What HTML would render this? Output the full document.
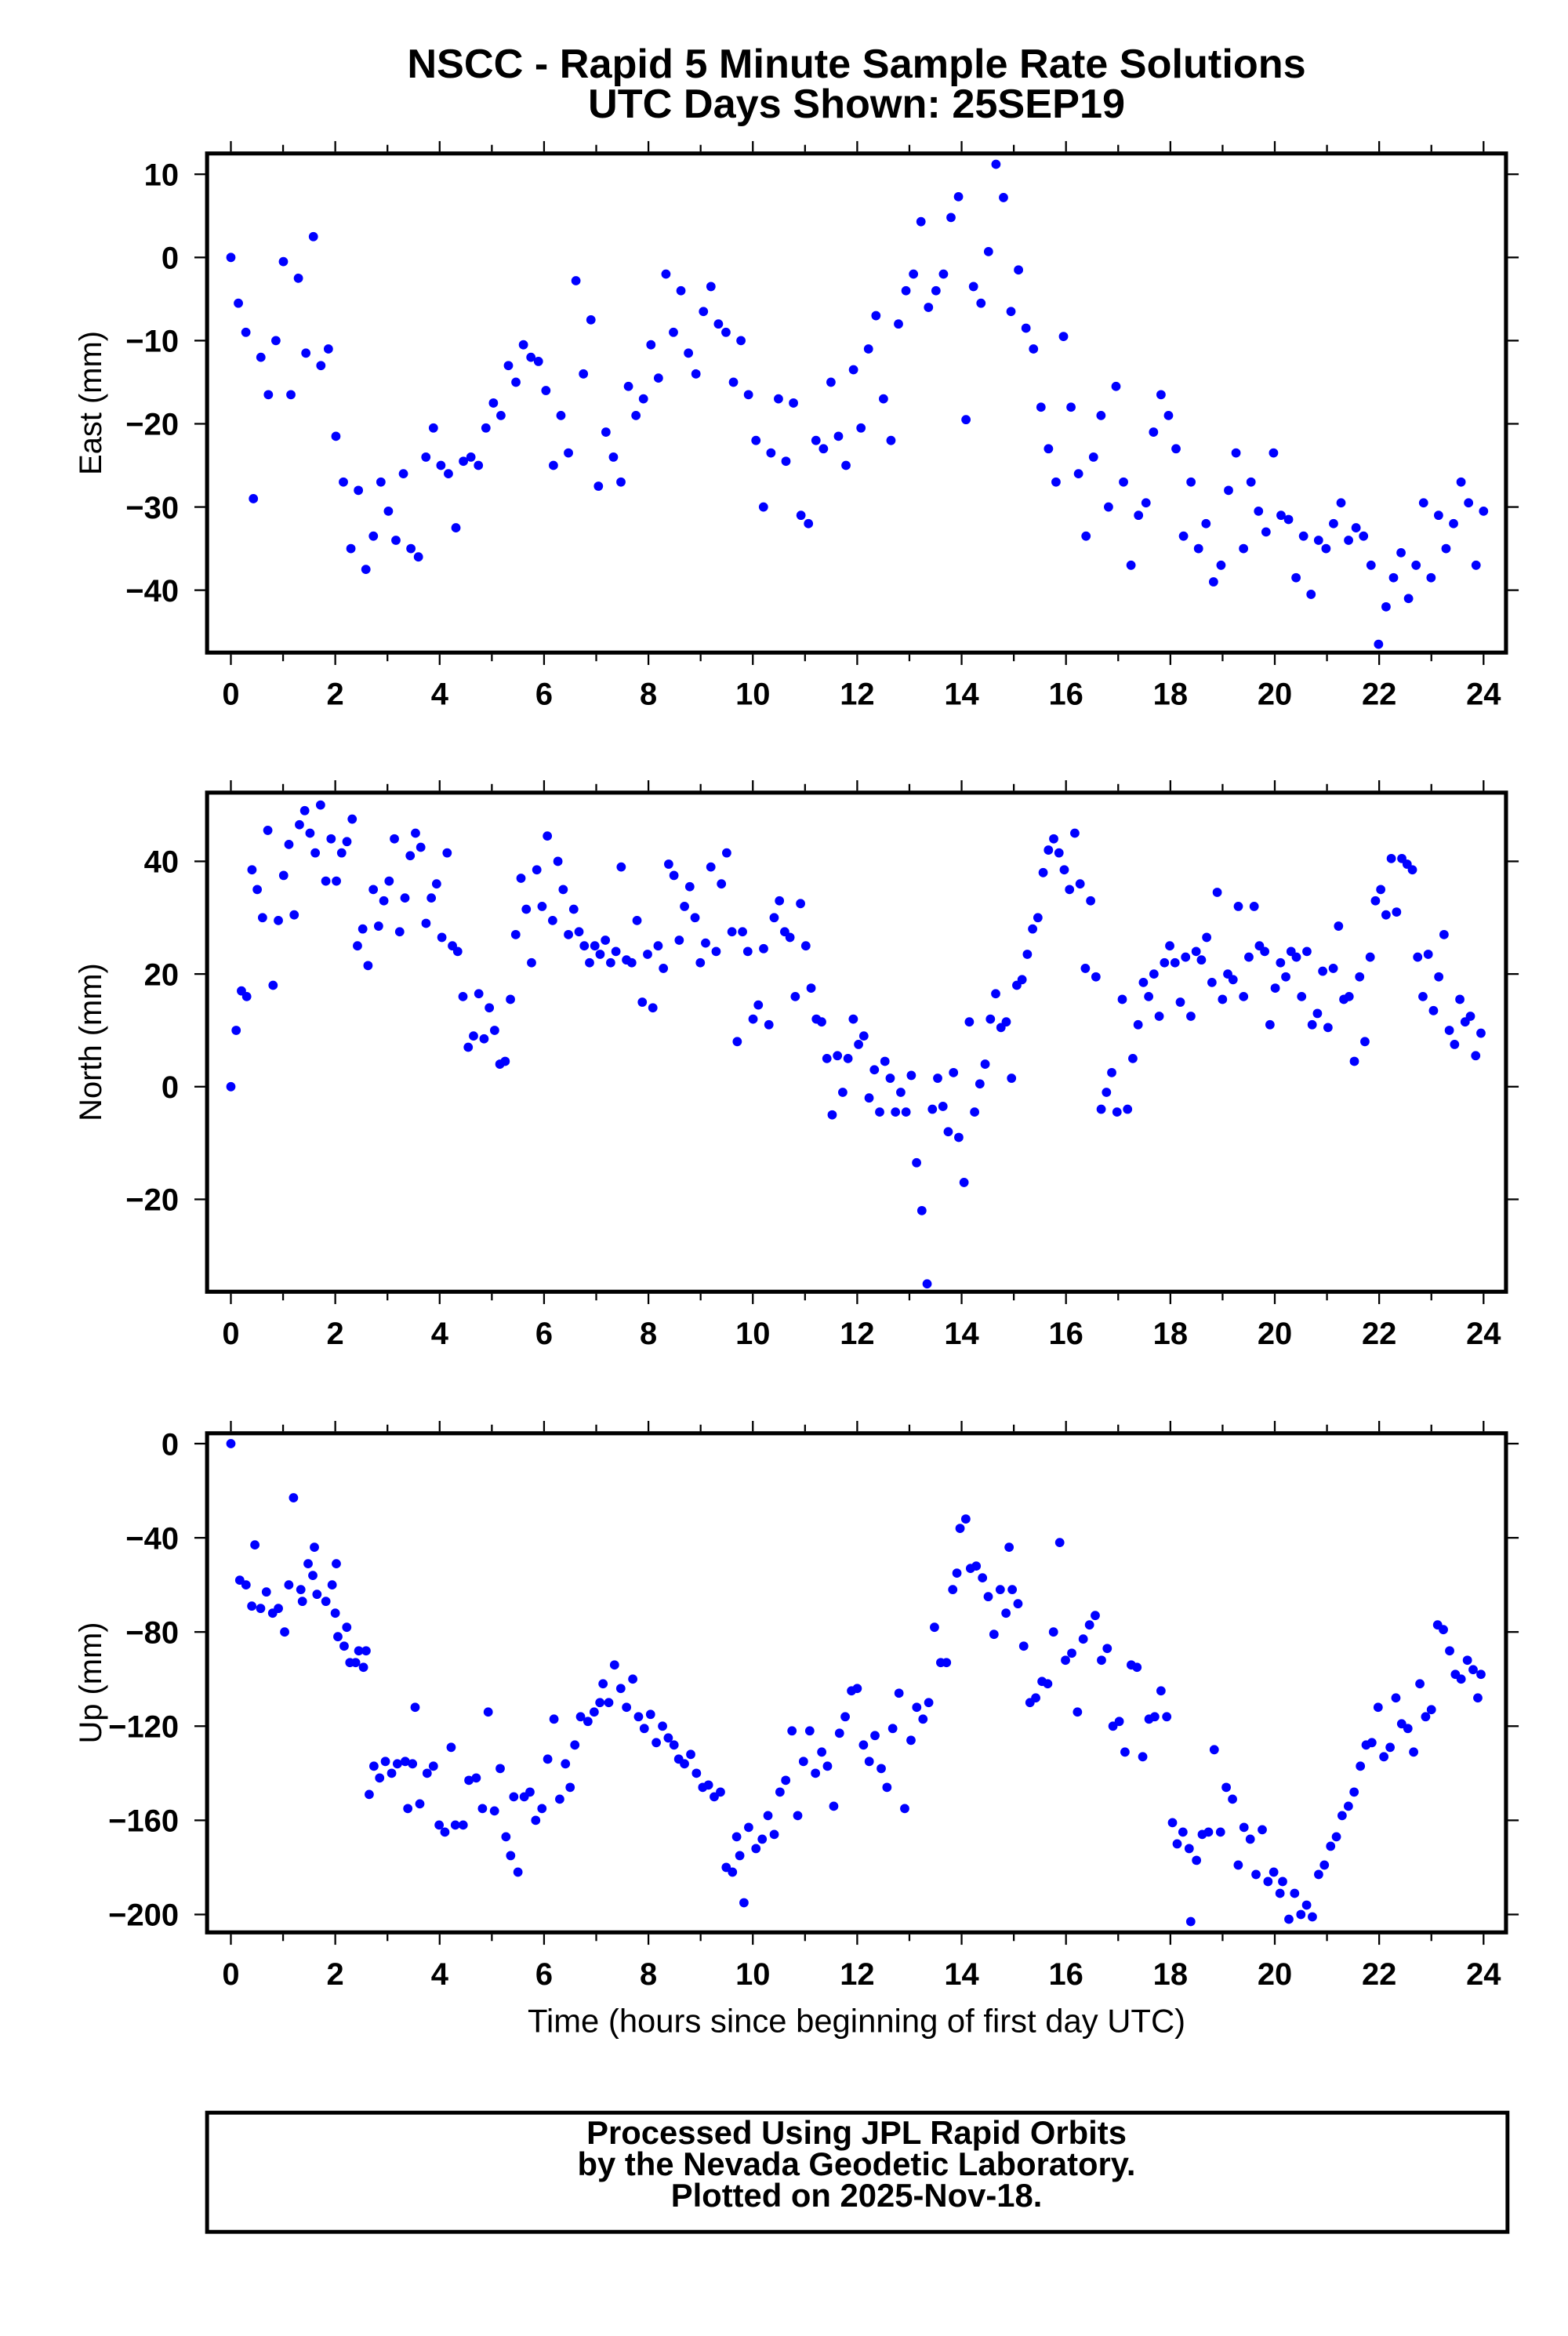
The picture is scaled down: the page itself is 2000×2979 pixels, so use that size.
<!DOCTYPE html>
<html><head><meta charset="utf-8"><style>
html,body{margin:0;padding:0;background:#fff}
svg{display:block}
text{font-family:"Liberation Sans",Arial,sans-serif}
</style></head><body>
<svg id="chart" width="2000" height="2979" viewBox="0 0 1052.6 1567.9" xmlns="http://www.w3.org/2000/svg">
<text x="575" y="52" text-anchor="middle" font-size="27.5" font-weight="bold">NSCC - Rapid 5 Minute Sample Rate Solutions</text>
<text x="575" y="79" text-anchor="middle" font-size="27.5" font-weight="bold">UTC Days Shown:  25SEP19</text>
<text x="575" y="1364" text-anchor="middle" font-size="22">Time (hours since beginning of first day UTC)</text>
<rect x="139" y="1418" width="873" height="80" fill="none" stroke="#000" stroke-width="2.6"/>
<text x="575" y="1439" text-anchor="middle" font-size="22" font-weight="bold">Processed Using JPL Rapid Orbits</text>
<text x="575" y="1460" text-anchor="middle" font-size="22" font-weight="bold">by the Nevada Geodetic Laboratory.</text>
<text x="575" y="1481" text-anchor="middle" font-size="22" font-weight="bold">Plotted on 2025-Nov-18.</text>
</svg>
<script>
const xTicks = [0,2,4,6,8,10,12,14,16,18,20,22,24];
const eastTicks = [10,0,-10,-20,-30,-40];
const northTicks = [40,20,0,-20];
const upTicks = [0,-40,-80,-120,-160,-200];

const eastV = [0,-5.5,-9,-29,-12,-16.5,-10,-0.5,-16.5,-2.5,-11.5,2.5,-13,-11,-21.5,-27,-35,-28,-37.5,-33.5,-27,-30.5,-34,-26,-35,-36,-24,-20.5,-25,-26,-32.5,-24.5,-24,-25,-20.5,-17.5,-19,-13,-15,-10.5,-12,-12.5,-16,-25,-19,-23.5,-2.8,-14,-7.5,-27.5,-21,-24,-27,-15.5,-19,-17,-10.5,-14.5,-2,-9,-4,-11.5,-14,-6.5,-3.5,-8,-9,-15,-10,-16.5,-22,-30,-23.5,-17,-24.5,-17.5,-31,-32,-22,-23,-15,-21.5,-25,-13.5,-20.5,-11,-7,-17,-22,-8,-4,-2,4.3,-6,-4,-2,4.8,7.3,-19.5,-3.5,-5.5,0.7,11.2,7.2,-6.5,-1.5,-8.5,-11,-18,-23,-27,-9.5,-18,-26,-33.5,-24,-19,-30,-15.5,-27,-37,-31,-29.5,-21,-16.5,-19,-23,-33.5,-27,-35,-32,-39,-37,-28,-23.5,-35,-27,-30.5,-33,-23.5,-31,-31.5,-38.5,-33.5,-40.5,-34,-35,-32,-29.5,-34,-32.5,-33.5,-37,-46.5,-42,-38.5,-35.5,-41,-37,-29.5,-38.5,-31,-35,-32,-27,-29.5,-37,-30.5];

const northV = [0,10,17,16,38.5,35,30,45.5,18,29.5,37.5,43,30.5,46.5,49,45,41.5,50,36.5,44,36.5,41.5,43.5,47.5,25,28,21.5,35,28.5,33,36.5,44,27.5,33.5,41,45,42.5,29,33.5,36,26.5,41.5,25,24,16,7,9,16.5,8.5,14,10,4,4.5,15.5,27,37,31.5,22,38.5,32,44.5,29.5,40,35,27,31.5,27.5,25,22,25,23.5,26,22,24,39,22.5,22,29.5,15,23.5,14,25,21,39.5,37.5,26,32,35.5,30,22,25.5,39,24,36,41.5,27.5,8,27.5,24,12,14.5,24.5,11,30,33,27.5,26.5,16,32.5,25,17.5,12,11.5,5,-5,5.5,-1,5,12,7.5,9,-2,3,-4.5,4.5,1.5,-4.5,-1,-4.5,2,-13.5,-22,-35,-4,1.5,-3.5,-8,2.5,-9,-17,11.5,-4.5,0.5,4,12,16.5,10.5,11.5,1.5,18,19,23.5,28,30,38,42,44,41.5,38.5,35,45,36,21,33,19.5,-4,-1,2.5,-4.5,15.5,-4,5,11,18.5,16,20,12.5,22,25,22,15,23,12.5,24,22.5,26.5,18.5,34.5,15.5,20,19,32,16,23,32,25,24,11,17.5,22,19.5,24,23,16,24,11,13,20.5,10.5,21,28.5,15.5,16,4.5,19.5,8,23,33,35,30.5,40.5,31,40.5,39.5,38.5,23,16,23.5,13.5,19.5,27,10,7.5,15.5,11.5,12.5,5.5,9.5];

const upT = [0,0.17,0.29,0.40,0.46,0.57,0.68,0.80,0.91,1.03,1.11,1.20,1.34,1.37,1.48,1.57,1.60,1.65,1.82,1.94,2.00,2.02,2.05,2.17,2.22,2.28,2.39,2.45,2.54,2.59,2.65,2.74,2.85,2.96,3.08,3.19,3.34,3.39,3.48,3.53,3.62,3.76,3.88,3.99,4.10,4.22,4.30,4.45,4.56,4.70,4.82,4.93,5.05,5.16,5.27,5.36,5.42,5.50,5.62,5.73,5.84,5.96,6.07,6.19,6.30,6.41,6.50,6.59,6.70,6.84,6.96,7.07,7.13,7.24,7.35,7.47,7.58,7.70,7.81,7.92,8.04,8.15,8.27,8.38,8.49,8.58,8.69,8.81,8.92,9.04,9.15,9.26,9.38,9.49,9.61,9.69,9.75,9.83,9.92,10.06,10.18,10.29,10.41,10.52,10.63,10.75,10.86,10.97,11.09,11.20,11.32,11.43,11.55,11.66,11.77,11.89,12.00,12.12,12.23,12.34,12.46,12.57,12.68,12.80,12.91,13.03,13.14,13.26,13.37,13.48,13.60,13.71,13.83,13.91,13.97,14.08,14.17,14.28,14.40,14.51,14.62,14.74,14.85,14.91,14.97,15.08,15.19,15.31,15.42,15.54,15.65,15.76,15.88,15.99,16.11,16.22,16.33,16.45,16.56,16.68,16.79,16.90,17.02,17.13,17.25,17.36,17.47,17.59,17.70,17.82,17.93,18.04,18.13,18.24,18.36,18.39,18.50,18.61,18.73,18.84,18.96,19.07,19.19,19.30,19.41,19.53,19.64,19.76,19.87,19.98,20.10,20.15,20.27,20.38,20.50,20.61,20.72,20.84,20.95,21.07,21.18,21.29,21.41,21.52,21.64,21.75,21.86,21.98,22.09,22.21,22.32,22.43,22.55,22.66,22.78,22.89,23.00,23.12,23.23,23.35,23.46,23.57,23.69,23.80,23.89,23.95];
const upV = [0,-58,-60,-69,-43,-70,-63,-72,-70,-80,-60,-23,-62,-67,-51,-56,-44,-64,-67,-60,-72,-51,-82,-86,-78,-93,-93,-88,-95,-88,-149,-137,-142,-135,-140,-136,-135,-155,-136,-112,-153,-140,-137,-162,-165,-129,-162,-162,-143,-142,-155,-114,-156,-138,-167,-175,-150,-182,-150,-148,-160,-155,-134,-117,-151,-136,-146,-128,-116,-118,-114,-110,-102,-110,-94,-104,-112,-100,-116,-121,-115,-127,-120,-125,-128,-134,-136,-132,-140,-146,-145,-150,-148,-180,-182,-167,-175,-195,-163,-172,-168,-158,-166,-148,-143,-122,-158,-135,-122,-140,-131,-137,-154,-123,-116,-105,-104,-128,-135,-124,-138,-146,-121,-106,-155,-126,-112,-117,-110,-78,-93,-93,-62,-55,-36,-32,-53,-52,-57,-65,-81,-62,-72,-44,-62,-68,-86,-110,-108,-101,-102,-80,-42,-92,-89,-114,-83,-77,-73,-92,-87,-120,-118,-131,-94,-95,-133,-117,-116,-105,-116,-161,-170,-165,-172,-203,-177,-166,-165,-130,-165,-146,-151,-179,-163,-168,-183,-164,-186,-182,-191,-186,-202,-191,-200,-196,-201,-183,-179,-171,-167,-158,-154,-148,-137,-128,-127,-112,-133,-129,-108,-119,-121,-131,-102,-116,-113,-77,-79,-88,-98,-100,-92,-96,-108,-98];

const NS = 'http://www.w3.org/2000/svg';
const svg = document.getElementById('chart');
const BX0 = 139, BX1 = 1011, X0 = -0.456, X1 = 24.43;
function xs(t){ return BX0 + (t - X0) / (X1 - X0) * (BX1 - BX0); }
function mk(tag, attrs, parent){ const e = document.createElementNS(NS, tag); for (const k in attrs) e.setAttribute(k, attrs[k]); (parent||svg).appendChild(e); return e; }

function panel(key, label, top, bot, yMax, yMin, ticks, ts, vs){
  const ys = v => top + (yMax - v) / (yMax - yMin) * (bot - top);
  const g = mk('g', {});
  
  
  for (let i = 0; i < vs.length; i++){
    const c = mk('circle', {cx: xs(ts(i)), cy: ys(vs[i]), r: 3.1, fill: '#0000ff'}, g);
    
    
  }
  const box = mk('rect', {x: BX0, y: top, width: BX1 - BX0, height: bot - top, fill: 'none', stroke: '#000', 'stroke-width': 2.7}, g);
  
  
  for (let h = 0; h <= 24; h++){
    const x = xs(h), L = (h % 2 === 0) ? 7 : 4.5;
    mk('line', {x1: x, x2: x, y1: bot + 1.3, y2: bot + 1.3 + L, stroke: '#000', 'stroke-width': 1.2}, g);
    mk('line', {x1: x, x2: x, y1: top - 1.3, y2: top - 1.3 - L, stroke: '#000', 'stroke-width': 1.2}, g);
  }
  xTicks.forEach(t => {
    const tx = mk('text', {x: xs(t), y: bot + 35, 'text-anchor': 'middle', 'font-size': 21, 'font-weight': 'bold'}, g);
    
    
    tx.textContent = String(t);
  });
  ticks.forEach(v => {
    const y = ys(v);
    mk('line', {x1: BX0 - 1.3, x2: BX0 - 8.5, y1: y, y2: y, stroke: '#000', 'stroke-width': 1.2}, g);
    mk('line', {x1: BX1 + 1.3, x2: BX1 + 8.5, y1: y, y2: y, stroke: '#000', 'stroke-width': 1.2}, g);
    const tx = mk('text', {x: 120, y: y + 7.5, 'text-anchor': 'end', 'font-size': 21, 'font-weight': 'bold'}, g);
    
    
    tx.textContent = v < 0 ? '\u2212' + Math.abs(v) : String(v);
  });
  const yl = mk('text', {x: 0, y: 0, transform: 'translate(68,' + ((top + bot) / 2) + ') rotate(-90)', 'text-anchor': 'middle', 'font-size': 21}, g);
  
  
  yl.textContent = label;
}
panel('east', 'East (mm)', 103, 438, 12.5, -47.5, eastTicks, i => i * 24 / (eastV.length - 1), eastV);
panel('north', 'North (mm)', 532, 867, 52.2, -36.4, northTicks, i => i * 23.95 / (northV.length - 1), northV);
panel('up', 'Up (mm)', 962, 1297, 4.4, -207.6, upTicks, i => upT[i], upV);
</script>
</body></html>
